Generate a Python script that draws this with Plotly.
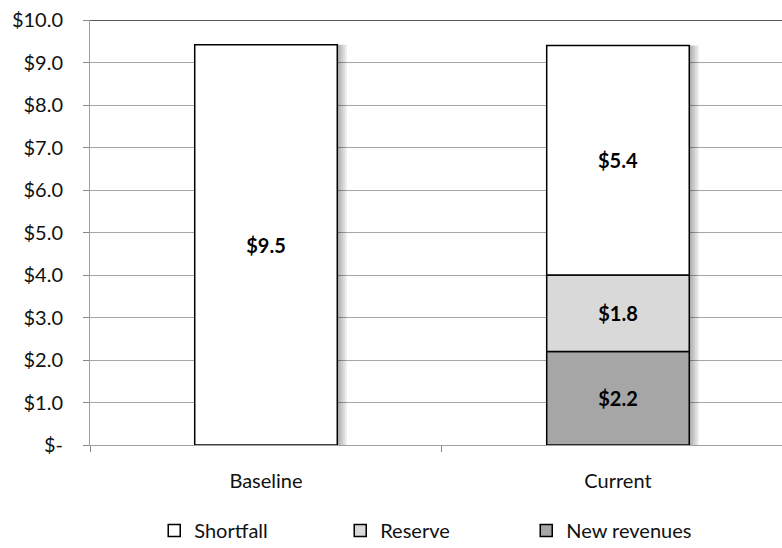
import plotly.graph_objects as go

categories = ["Baseline", "Current"]
new_revenues = [0.0, 2.2]
reserve = [0.0, 1.8]
shortfall = [9.42, 5.4]
new_labels = ["", "$2.2"]
reserve_labels = ["", "$1.8"]
shortfall_labels = ["$9.5", "$5.4"]
y_tickvals = [0, 1, 2, 3, 4, 5, 6, 7, 8, 9, 10]
y_ticktext = ["$-", "$1.0", "$2.0", "$3.0", "$4.0", "$5.0", "$6.0", "$7.0", "$8.0", "$9.0", "$10.0"]

FONT = "Lato, 'Open Sans', sans-serif"
reserve_base = [a for a in new_revenues]
shortfall_base = [a + b for a, b in zip(new_revenues, reserve)]
totals = [a + b + c for a, b, c in zip(new_revenues, reserve, shortfall)]

W = 0.405
fig = go.Figure()

# soft drop shadow to the right of each bar
for k in range(1, 6):
    fig.add_trace(go.Bar(
        x=categories, y=totals, base=[0, 0], width=W, offset=-W / 2 + k * 0.0055,
        marker=dict(color="rgba(0,0,0,0.07)", line=dict(width=0)),
        showlegend=False, hoverinfo="skip"))

common = dict(width=W, offset=-W / 2, textposition="inside", insidetextanchor="middle",
              textfont=dict(family=FONT, size=20, color="black", weight="bold"),
              constraintext="none")

fig.add_trace(go.Bar(name="New revenues", x=categories, y=new_revenues, base=[0, 0],
                     text=new_labels, marker=dict(color="#a6a6a6", line=dict(color="black", width=1.5)),
                     **common))
fig.add_trace(go.Bar(name="Reserve", x=categories, y=reserve, base=reserve_base,
                     text=reserve_labels, marker=dict(color="#d9d9d9", line=dict(color="black", width=1.5)),
                     **common))
fig.add_trace(go.Bar(name="Shortfall", x=categories, y=shortfall, base=shortfall_base,
                     text=shortfall_labels, marker=dict(color="white", line=dict(color="black", width=1.5)),
                     **common))

fig.update_layout(
    width=782, height=548,
    margin=dict(l=90, r=0, t=20, b=103, autoexpand=False),
    paper_bgcolor="white", plot_bgcolor="white",
    barmode="overlay",
    font=dict(family=FONT, size=20, color="#111"),
    showlegend=True,
    legend=dict(orientation="h", x=0.554, xref="container", xanchor="center",
                y=0.032, yref="container", yanchor="middle",
                traceorder="reversed", font=dict(size=20, color="#111"),
                entrywidth=141, entrywidthmode="pixels", itemwidth=30),
    xaxis=dict(range=[-0.5, 1.466], showgrid=False, showline=True, linecolor="#a0a0a0",
               ticks="outside", tickson="boundaries", ticklen=6, tickcolor="#888",
               ticklabelstandoff=18, tickfont=dict(size=20, color="#111"), zeroline=False),
    yaxis=dict(range=[0, 10], tickvals=y_tickvals, ticktext=y_ticktext,
               showgrid=True, gridcolor="#a6a6a6", gridwidth=1,
               showline=True, linecolor="#a0a0a0", ticks="outside", ticklen=6, tickcolor="#888",
               tickfont=dict(size=20, color="#111"), zeroline=False, ticklabelstandoff=16),
    shapes=[dict(type="line", xref="paper", yref="y", x0=0, x1=1, y0=10, y1=10,
                 line=dict(color="#222", width=1.5))],
)

fig.write_html("out.html")
